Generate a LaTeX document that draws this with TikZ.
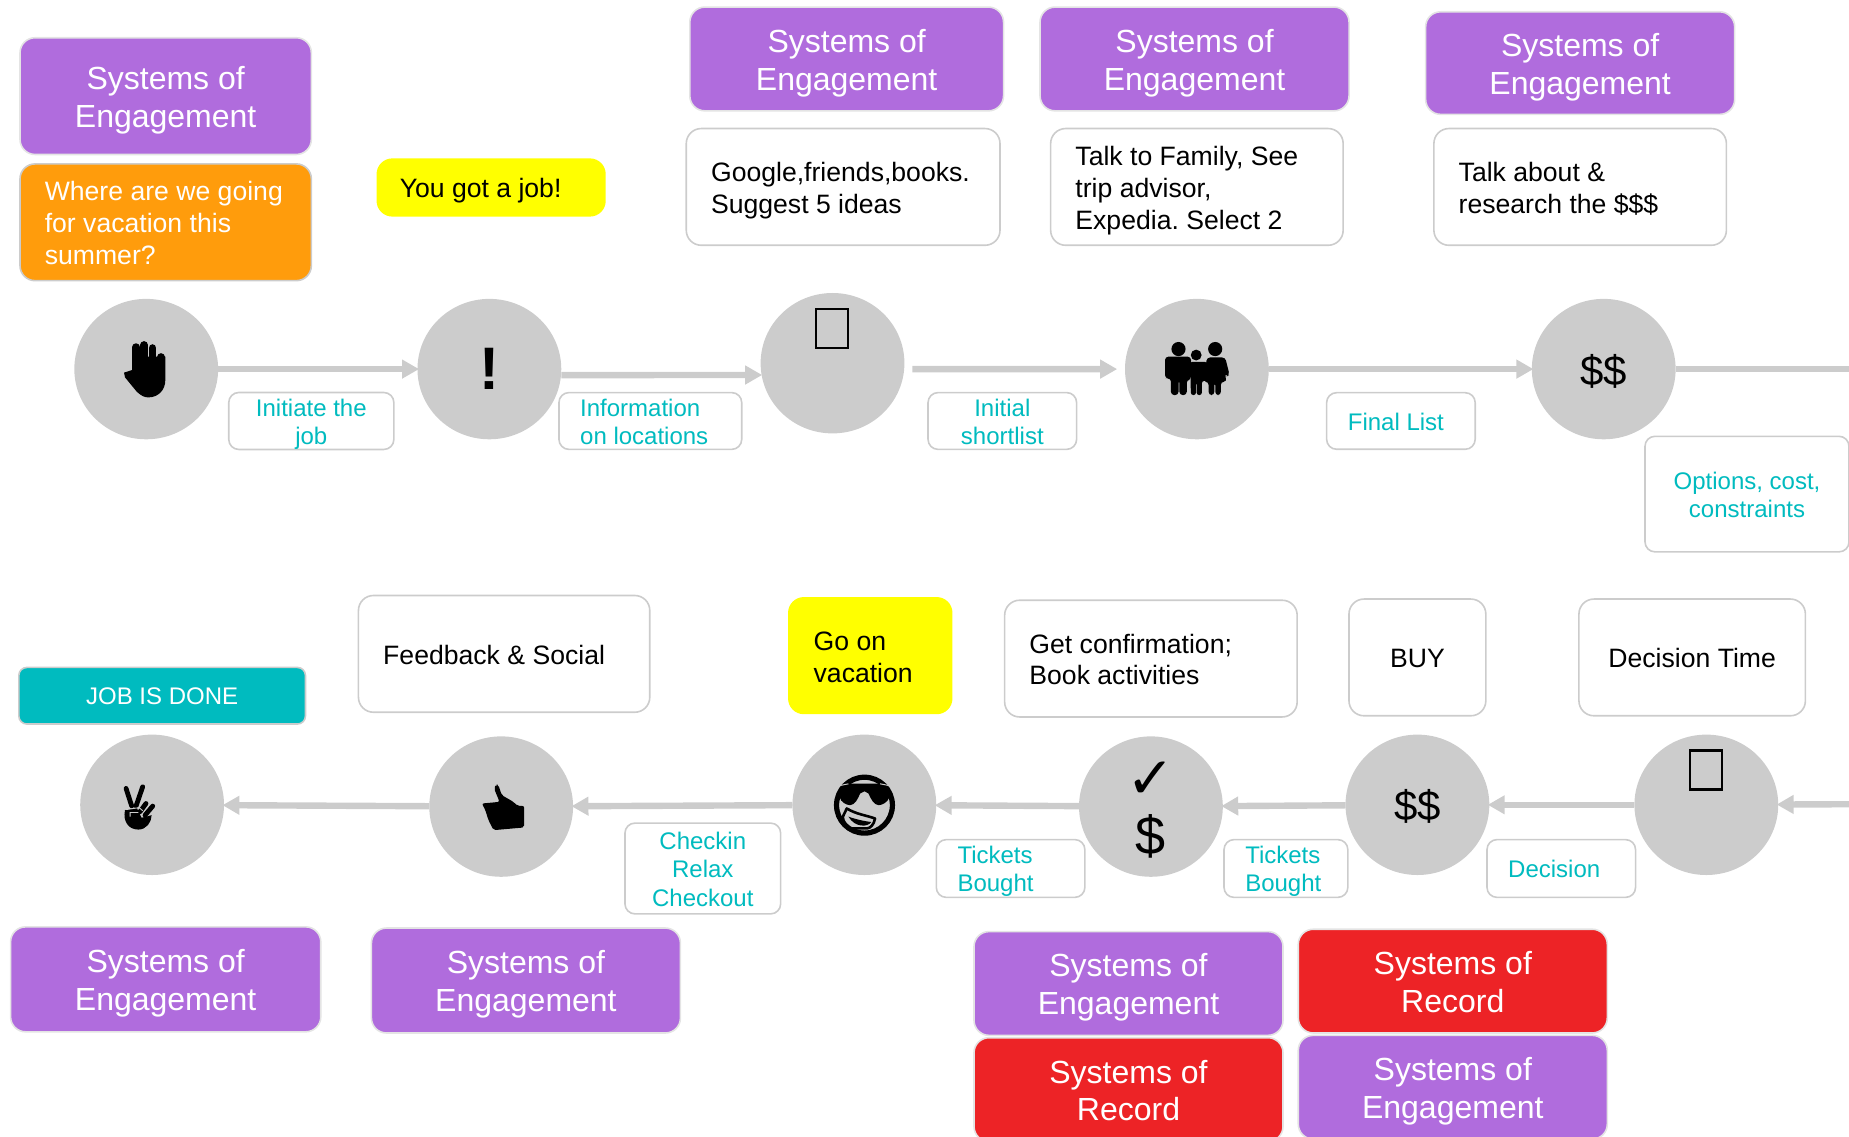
\documentclass[tikz,border=0pt]{standalone}
\usepackage{fontspec}
\setmainfont{Liberation Sans}
\newfontfamily\symfont{DejaVu Sans}
\frenchspacing
\usetikzlibrary{shapes.geometric,arrows.meta}
\definecolor{soe}{HTML}{B06CDD}
\definecolor{sor}{HTML}{ED2326}
\definecolor{asks}{HTML}{FF9C0C}
\definecolor{hilite}{HTML}{FFFF00}
\definecolor{teal}{HTML}{00BBBF}
\definecolor{rim}{HTML}{CCCCCC}
\definecolor{pale}{HTML}{E4E4E4}
\newcommand{\firststrut}{\rule{0pt}{0.83\baselineskip}}
\newcommand{\laststrut}{\rule[-0.17\baselineskip]{0pt}{0.17\baselineskip}}
\tikzset{
  wh/.style 2 args={shape=rectangle, minimum width=#1*0.5896pt, minimum height=#2*0.5896pt, outer sep=0pt, inner ysep=0pt,
    inner xsep=12.4pt, text width=(#1-42)*0.5896pt, execute at begin node=\firststrut, execute at end node=\laststrut},
  big/.style={font=\fontsize{16}{18.9}\selectfont, text=white, align=flush center, rounded corners=7.5pt, line width=0.8pt},
  soebox/.style 2 args={wh={#1}{#2}, big, fill=soe, draw=pale},
  sorbox/.style 2 args={wh={#1}{#2}, big, fill=sor, draw=pale},
  mid/.style={font=\fontsize{13.3}{15.9}\selectfont, rounded corners=7.5pt, draw=rim, line width=0.8pt, fill=white},
  midc/.style 2 args={wh={#1}{#2}, mid, align=flush center},
  midl/.style 2 args={wh={#1}{#2}, mid, align=flush left},
  lab/.style={font=\fontsize{12}{14.2}\selectfont, text=teal, rounded corners=5pt, draw=rim, line width=0.8pt, fill=white, inner xsep=10.6pt},
  labc/.style 2 args={wh={#1}{#2}, lab, align=flush center, text width=(#1-36)*0.5896pt},
  labl/.style 2 args={wh={#1}{#2}, lab, align=flush left, text width=(#1-36)*0.5896pt},
  stage/.style={shape=ellipse, fill=rim, inner sep=0pt, outer sep=0pt, minimum width=71.9pt, minimum height=70.2pt},
  money/.style={stage, font=\fontsize{21}{21}\selectfont, text height=17.6pt},
  flow/.style={draw=rim, line width=3.2pt},
  head/.style={-{Triangle[length=8.5pt,width=9pt]}, shorten >=-0.8pt},
  tofu/.pic={\draw[line width=1.1pt] (-14,-46) rectangle (13,-13);},
  handicon/.pic={
    \fill (-12,0.8) -- (-18.8,3) -- (-18,7) -- (-8,19.2) .. controls (-4,23) and (-1,24) .. (1.8,24)
      .. controls (10,24) and (16.2,18) .. (16.2,9.3) -- (16.2,-10.5) -- (-12,-10.5) -- cycle;
    \draw[line width=3.9pt, line cap=round] (-8.6,-18.6) -- (-8.6,2) (-1.8,-20.4) -- (-1.8,2) (5.4,-17.8) -- (5.4,2) (12.6,-10.2) -- (12.6,2);
  },
  familyicon/.pic={
    \fill (-15.6,-17) circle (6) (-0.6,-11.9) circle (4.6) (15.5,-17) circle (6);
    \fill[rounded corners=1.6pt] (-27,7.9) -- (-27,-10.5) -- (-5,-10.5) -- (-5,9) -- (-8.6,9) -- (-8.6,22) -- (-14.8,22) -- (-14.8,9) -- (-15.6,9)
      -- (-15.6,22) -- (-22,22) -- (-22,8) -- (-24,8) -- cycle;
    \fill[rounded corners=1.2pt] (-5.7,-6.2) -- (8.5,-6.2) -- (8.5,10) -- (4.2,10) -- (4.2,22) -- (-0.2,22) -- (-0.2,11) -- (-0.8,11) -- (-0.8,22) -- (-5.1,22) -- cycle;
    \fill[rounded corners=1.6pt] (8.5,-9.9) -- (24,-9.9) -- (27.7,5) -- (24.9,6.5) -- (23.5,4) -- (25.4,10.7) -- (20.3,10.7) -- (20.3,22) -- (15.6,22) -- (15.6,11)
      -- (14.8,11) -- (14.8,22) -- (9.9,22) -- (9.9,10.7) -- (5.6,10.7) -- cycle;
  },
  thumbicon/.pic={
    \fill[rounded corners=1pt] (-4.3,-19) -- (-2.3,-18.2) -- (0.5,-9.7) -- (10.4,-4) -- (13.8,-0.6) -- (19.5,-0.6) -- (19.5,17.7) -- (-6.5,20)
      -- (-10.8,11.5) -- (-13.6,2.5) -- (-16.4,-2.6) -- (-1.4,-4) -- (-6,-15.4) -- cycle;
  },
  peaceicon/.pic={
    \draw[line width=2.4pt, line cap=round] (-22.1,-13.9) -- (-17.3,1) (-8,-15.3) -- (-13.6,1) (-5.2,-1.1) -- (-10.3,5.9) (0.5,1.1) -- (-6,8.8);
    \fill (-23,4.5) .. controls (-25,14) and (-20,21) .. (-11.7,21) .. controls (-5,21) and (-0.5,15) .. (-0.4,8.8) -- (-9,11) -- (-13,2.5) -- cycle;
    \draw[rim, line width=0.45pt] (-22,4) -- (-11,2.4) -- (-8,5) (-18.7,10) -- (-18.7,6.5) -- (-11.6,6.5);
  },
  sunicon/.pic={
    \draw[line width=2.6pt] (0.1,0.3) circle (23.7);
    \fill (-13.5,-18) -- (13.4,-18) -- (21.3,-13.9) -- (21.3,-6.8) .. controls (20,-2) and (15,0.3) .. (12,0.3) .. controls (8,0.3) and (5,-6) .. (3.5,-9.6)
      -- (0.1,-11.5) -- (-3.6,-9.6) .. controls (-5,-6) and (-8,0.3) .. (-12,0.3) .. controls (-15,0.3) and (-20,-2) .. (-21.1,-6.8) -- (-21.1,-13.9) -- cycle;
    \draw[rim, line width=0.5pt] (-21,-16.3) -- (-13.5,-17.8) (21,-16.3) -- (13.4,-17.8);
    \draw[line width=1.3pt, line join=round] (-14.9,3.1) .. controls (-7,8) and (2,9) .. (9.1,11.6) .. controls (8,17) and (5,20) .. (2.1,20) -- (-12,20) .. controls (-16,17) and (-18,14) .. (-18.3,10.2) -- cycle;
    \fill (-13.5,10) .. controls (-7,12.5) and (1,14) .. (6,14.6) .. controls (3,19) and (-8,19.5) .. (-13.5,10) -- cycle;
  },
}
\begin{document}
\begin{tikzpicture}[x=0.5896pt,y=-0.5896pt]
  \useasboundingbox (0,0) rectangle (1568,964);
  \clip (0,0) rectangle (1568,964);
  % upper row
  \node[soebox={247}{99}] (soeA) at (140.5,81.5) {Systems of\\Engagement};
  \node[soebox={266}{88}] (soeB) at (718,50) {Systems of\\Engagement};
  \node[soebox={262}{88}] (soeC) at (1013,50) {Systems of\\Engagement};
  \node[soebox={262}{87}] (soeD) at (1340,53.5) {Systems of\\Engagement};
  \node[midl={247}{99},fill=asks,text=white] (where) at (140.5,188.5) {Where are we going\\for vacation this\\summer?};
  \node[midl={193}{48},fill=hilite,draw=hilite,inner xsep=11.2pt,text width=(193-38)*0.5896pt] (gotjob) at (416.5,159) {You got a job!};
  \node[midl={266}{99}] (ideas) at (715,158.5) {Google,friends,books.\\Suggest 5 ideas};
  \node[midl={248}{99}] (talk) at (1015,158.5) {Talk to Family, See\\trip advisor,\\Expedia. Select 2};
  \node[midl={248}{99}] (research) at (1340,158.5) {Talk about \&\\research the \$\$\$};
  \node[stage] (hand) at (124,313) {};
  \node[stage,font=\fontsize{30}{30}\selectfont\bfseries] (alert) at (415,313) {!};
  \node[stage] (web) at (706,308) {};
  \node[stage] (family) at (1015,313) {};
  \node[money] (cost) at (1360,313) {\$\$};
  \coordinate (upperout) at (1568,313);
  \pic at (hand) {handicon};
  \pic at (web) {tofu};
  \pic at (family) {familyicon};
  \draw[flow,head] (hand) -- (alert);
  \draw[flow,head] ([yshift=-3pt]alert.east) -- ([yshift=-5.9pt]web.west);
  \draw[flow,head] ([xshift=4pt,yshift=-3pt]web.east) -- ([xshift=-4.7pt]family.west);
  \draw[flow,head] (family) -- (cost);
  \draw[flow] (cost) -- (upperout);
  \node[labc={140}{48}] (initiate) at (264,357) {Initiate the\\job};
  \node[labl={155}{48}] (info) at (551.5,357) {Information\\on locations};
  \node[labc={126}{48}] (shortlist) at (850,357) {Initial\\shortlist};
  \node[labl={126}{48}] (finallist) at (1188,357) {Final List};
  \node[labc={173}{98}] (options) at (1481.5,419) {Options, cost,\\constraints};
  % lower row
  \node[wh={243}{48},align=flush center,fill=teal,draw=rim,line width=0.8pt,text=white,rounded corners=4pt,font=\fontsize{12}{14}\selectfont] (done) at (137.5,590) {JOB IS DONE};
  \node[midl={247}{99}] (feedback) at (427.5,554.5) {Feedback \& Social};
  \node[midl={138}{98},fill=hilite,draw=hilite] (goon) at (738,556) {Go on\\vacation};
  \node[midl={248}{99}] (confirm) at (976,558.5) {Get confirmation;\\Book activities};
  \node[midc={116}{99}] (buy) at (1202,557.5) {BUY};
  \node[midc={192}{99}] (dectime) at (1435,557.5) {Decision Time};
  \node[stage] (peace) at (129,682.5) {};
  \node[stage] (thumb) at (425,684) {};
  \node[stage] (sun) at (733,682.5) {};
  \node[stage] (paid) at (976,684) {};
  \node[inner sep=0pt,font=\symfont\fontsize{29}{29}\selectfont] (tick) at (976,662) {✓};
  \node[inner sep=0pt,font=\fontsize{27}{29}\selectfont] (dollar) at (976,709) {\$};
  \node[money] (price) at (1202,682.5) {\$\$};
  \node[stage] (decide) at (1447,682.5) {};
  \coordinate (lowerin) at (1568,682);
  \pic at (peace) {peaceicon};
  \pic at (thumb) {thumbicon};
  \pic at (sun) {sunicon};
  \pic at (decide) {tofu};
  \draw[flow,head] (lowerin) -- (decide);
  \draw[flow,head] (decide) -- (price);
  \draw[flow,head] (price) -- (paid);
  \draw[flow,head] (paid) -- (sun);
  \draw[flow,head] (sun) -- (thumb);
  \draw[flow,head] (thumb) -- (peace);
  \node[labc={132}{77}] (stay) at (596,736.5) {Checkin\\Relax\\Checkout};
  \node[labl={126}{49}] (tickA) at (857,736.5) {Tickets\\Bought};
  \node[labl={105}{49}] (tickB) at (1090.5,736.5) {Tickets\\Bought};
  \node[labl={126}{49}] (decision) at (1324,736.5) {Decision};
  \node[soebox={263}{89}] (soeE) at (140.5,830.5) {Systems of\\Engagement};
  \node[soebox={262}{89}] (soeF) at (446,831.5) {Systems of\\Engagement};
  \node[soebox={262}{88}] (soeG) at (957,834) {Systems of\\Engagement};
  \node[sorbox={262}{88}] (sorA) at (957,924) {Systems of\\Record};
  \node[sorbox={262}{88}] (sorB) at (1232,832) {Systems of\\Record};
  \node[soebox={262}{88}] (soeH) at (1232,922) {Systems of\\Engagement};
\end{tikzpicture}
\end{document}
